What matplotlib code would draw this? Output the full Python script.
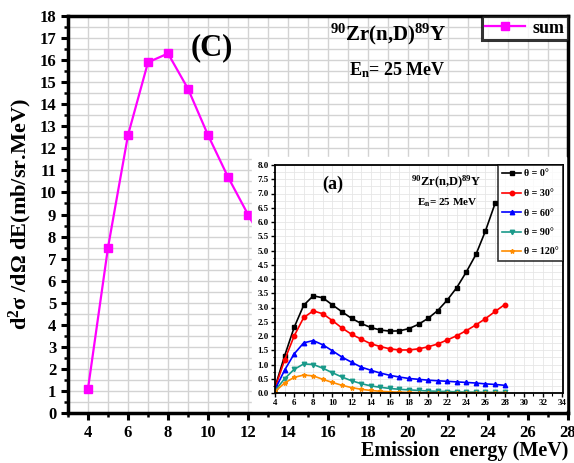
import matplotlib
matplotlib.use("Agg")
from matplotlib import pyplot as plt
from matplotlib.patches import Rectangle
from matplotlib.ticker import MultipleLocator, FormatStrFormatter

plt.rcParams['font.family'] = ['Liberation Serif', 'DejaVu Serif']
plt.rcParams['font.weight'] = 'bold'
plt.rcParams['mathtext.fontset'] = 'custom'
plt.rcParams['mathtext.rm'] = 'Liberation Serif:bold'
plt.rcParams['mathtext.it'] = 'Liberation Serif:bold'
plt.rcParams['mathtext.bf'] = 'Liberation Serif:bold'

# main panel (C): summed spectrum
sum_energy = [4, 5, 6, 7, 8, 9, 10, 11, 12, 13]
sum_values = [1.1, 7.5, 12.6, 15.9, 16.3, 14.7, 12.6, 10.7, 9.0, 7.4]

# inset (a): angular spectra
inset_energy = list(range(4, 29))
theta_0 = [0.2, 1.3, 2.3, 3.08, 3.41, 3.34, 3.09, 2.85, 2.62, 2.44, 2.3, 2.21, 2.17,
           2.18, 2.26, 2.41, 2.62, 2.89, 3.26, 3.70, 4.25, 4.86, 5.69, 6.65]
theta_30 = [0.18, 1.15, 2.0, 2.65, 2.88, 2.78, 2.54, 2.28, 2.06, 1.89, 1.73, 1.63, 1.55,
            1.51, 1.51, 1.55, 1.62, 1.72, 1.86, 2.01, 2.19, 2.39, 2.61, 2.86, 3.10]
theta_60 = [0.12, 0.8, 1.37, 1.76, 1.84, 1.69, 1.48, 1.26, 1.08, 0.91, 0.8, 0.7, 0.62,
            0.56, 0.51, 0.48, 0.45, 0.43, 0.41, 0.39, 0.37, 0.35, 0.32, 0.30, 0.27]
theta_90 = [0.08, 0.5, 0.83, 1.02, 1.0, 0.87, 0.71, 0.56, 0.43, 0.33, 0.25, 0.2, 0.16,
            0.13, 0.11, 0.09, 0.07, 0.06, 0.05, 0.04, 0.03, 0.03, 0.02, 0.02, 0.02]
theta_120 = [0.05, 0.35, 0.55, 0.63, 0.6, 0.48, 0.37, 0.27, 0.19, 0.13, 0.09, 0.06, 0.04,
             0.03, 0.02, 0.01, 0.01, 0.01, 0.01, 0.01, 0.01, 0.01, 0.01, 0.01, 0.01]
inset_series = [theta_0, theta_30, theta_60, theta_90, theta_120]
inset_labels = ["θ = 0°", "θ = 30°", "θ = 60°", "θ = 90°", "θ = 120°"]
inset_colors = ["black", "red", "blue", "#1a9a8a", "#ff8c00"]
inset_markers = ["s", "o", "^", "v", "*"]

W, H = 574, 463
fig = plt.figure(figsize=(W / 100, H / 100), dpi=100)

ax = fig.add_axes([68 / W, 1 - 413 / H, 500 / W, 397 / H])
ax.plot(sum_energy, sum_values, color="magenta", marker="s", markersize=6, lw=1.6, label="sum")
ax.set_xlim(3, 28)
ax.set_ylim(0, 18)
ax.xaxis.set_major_locator(MultipleLocator(2))
ax.xaxis.set_minor_locator(MultipleLocator(1))
ax.yaxis.set_major_locator(MultipleLocator(1))
ax.yaxis.set_minor_locator(MultipleLocator(0.5))
ax.grid(which="both", color="#d3d3d3", lw=1)
ax.set_axisbelow(True)
for s in ax.spines.values():
    s.set_linewidth(2.5)
ax.tick_params(which="major", width=2.2, length=5, labelsize=12)
ax.tick_params(which="minor", width=1.8, length=3)
ax.set_xlabel("Emission  energy (MeV)", fontsize=14.5, fontweight="bold", loc="right", labelpad=0)
ax.set_ylabel("d$^{2}$σ /dΩ dE(mb/sr.MeV)", fontsize=16, fontweight="bold", labelpad=4)
ax.text(10.2, 16.55, "(C)", fontsize=22, fontweight="bold", ha="center", va="center")
ax.text(19.0, 17.15, r"$^{90}$Zr(n,D)$^{89}$Y", fontsize=15, fontweight="bold", ha="center", va="center")
ax.text(19.45, 15.55, r"E$_{\mathrm{n}}$= 25 MeV", fontsize=13, fontweight="bold", ha="center", va="center")
leg = ax.legend(loc="upper right", fontsize=13, frameon=True, fancybox=False,
                borderaxespad=0, handlelength=2.2, handletextpad=0.4, borderpad=0.2)
leg.get_frame().set_edgecolor("black")
leg.get_frame().set_linewidth(2.2)

# white backing behind the inset image
fig.patches.append(Rectangle((252 / W, 1 - 410 / H), 314 / W, 253 / H,
                             transform=fig.transFigure, color="white", zorder=1))

ins = fig.add_axes([275 / W, 1 - 393 / H, 288 / W, 228 / H], zorder=2)
for ys, lab, c, m in zip(inset_series, inset_labels, inset_colors, inset_markers):
    ins.plot(inset_energy[:len(ys)], ys, color=c, marker=m, markersize=3.2, lw=1.2, label=lab)
ins.set_xlim(4, 34.1)
ins.set_ylim(0, 8)
ins.xaxis.set_major_locator(MultipleLocator(2))
ins.xaxis.set_minor_locator(MultipleLocator(1))
ins.yaxis.set_major_locator(MultipleLocator(0.5))
ins.yaxis.set_minor_locator(MultipleLocator(0.25))
ins.yaxis.set_major_formatter(FormatStrFormatter("%.1f"))
ins.grid(which="both", color="#e6e6e6", lw=0.6)
ins.set_axisbelow(True)
for s in ins.spines.values():
    s.set_linewidth(1.3)
ins.tick_params(which="major", width=1, length=3, labelsize=6.5, pad=1.5)
ins.tick_params(which="minor", width=0.8, length=1.8)
ins.text(10.0, 7.33, "(a)", fontsize=13, fontweight="bold", ha="center", va="center")
ins.text(21.9, 7.4, r"$^{90}$Zr(n,D)$^{89}$Y", fontsize=9, fontweight="bold", ha="center", va="center")
ins.text(22.0, 6.67, r"E$_{\mathrm{n}}$= 25 MeV", fontsize=8, fontweight="bold", ha="center", va="center")
ileg = ins.legend(loc="upper right", fontsize=7.2, frameon=True, fancybox=False,
                  borderaxespad=0, handlelength=1.9, handletextpad=0.25, borderpad=0.45,
                  labelspacing=1.05)
ileg.get_frame().set_edgecolor("black")
ileg.get_frame().set_linewidth(1.2)

fig.savefig("out.png", dpi=100)
